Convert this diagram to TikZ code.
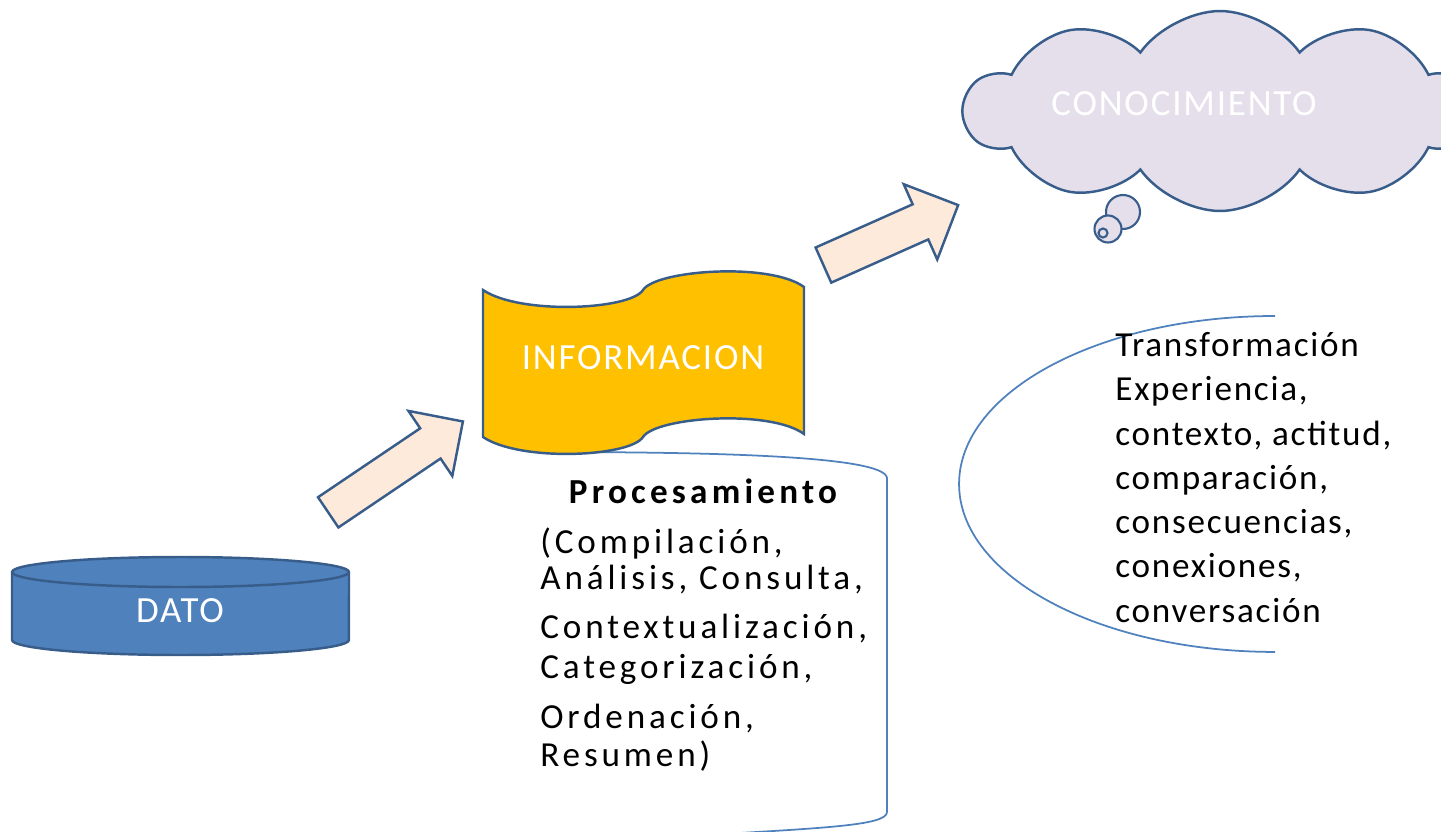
\documentclass[tikz,border=0pt]{standalone}
\usepackage{fontspec}
\setmainfont{Carlito}[LetterSpace=5]
\newfontfamily\listfont{Carlito}[LetterSpace=11]
\usetikzlibrary{shapes,arrows,positioning,shapes.symbols,shapes.arrows}

\definecolor{edgeblue}{HTML}{385D8A}
\definecolor{lineblue}{HTML}{4F81BD}
\definecolor{datofill}{HTML}{4F81BD}
\definecolor{infofill}{HTML}{FFC000}
\definecolor{arrowfill}{HTML}{FDEADA}
\definecolor{cloudfill}{HTML}{E5DFEC}

\begin{document}
\begin{tikzpicture}[
        x=0.02cm, y=-0.02cm,
        title/.style={text=white, font=\fontsize{21}{24}\selectfont},
        edged/.style={draw=edgeblue, line width=1.4pt},
        outline/.style={draw=lineblue, line width=1pt},
        blockarrow/.style={single arrow, edged, fill=arrowfill, inner xsep=0pt, inner ysep=0.34cm, text height=0pt, text depth=0pt, single arrow head extend=0.42cm},
        bubble/.style={circle, edged, fill=cloudfill, line width=1.2pt, inner sep=0pt},
        listtext/.style={align=left, anchor=north west, inner sep=0pt}
    ]
        \useasboundingbox (0,0) rectangle (1441,832);
        \clip (0,0) rectangle (1441,832);

        % Dato
        \filldraw[edged, fill=datofill] (12,572) -- (12,640) arc[start angle=180, end angle=360, x radius=3.37cm, y radius=0.3cm] -- (349,572) arc[start angle=0, end angle=180, x radius=3.37cm, y radius=0.3cm] -- cycle;
        \draw[edged] (12,572) arc[start angle=180, end angle=360, x radius=3.37cm, y radius=0.3cm];
        \node[title] (dato) at (180,611) {DATO};

        % Procesamiento box, behind the banner
        \draw[outline] (540,452) .. controls (700,452) and (885,455) .. (887,478) -- (887,812) .. controls (887,826) and (820,828) .. (690,836);

        % Informacion banner
        \filldraw[edged, fill=infofill] (483,290) .. controls (520,315) and (630,310) .. (643,290) .. controls (656,270) and (770,262) .. (804,287) -- (804,434) .. controls (770,409) and (656,417) .. (643,437) .. controls (630,457) and (520,462) .. (483,437) -- cycle;
        \node[title] (info) at (643,358) {INFORMACION};

        % Conocimiento cloud
        \node[cloud, cloud puffs=10, cloud puff arc=110, aspect=2.5, edged, fill=cloudfill, minimum width=10.2cm, minimum height=4cm,
              label={[title, xshift=-0.72cm, yshift=0.14cm]center:CONOCIMIENTO}] (know) at (1220,111) {};
        \node[bubble, minimum size=0.68cm] (bub1) at (1123,212) {};
        \node[bubble, minimum size=0.54cm] (bub2) at (1108,229) {};
        \node[bubble, minimum size=0.18cm] (bub3) at (1103,233) {};

        % Arrows
        \node[blockarrow, minimum height=3.25cm, rotate=34] (up1) at (388,472) {};
        \node[blockarrow, minimum height=2.95cm, inner ysep=0.36cm, single arrow head extend=0.44cm, rotate=24] (up2) at (882,239) {};

        % Texts
        \node[font=\fontsize{20}{24}\selectfont\bfseries\addfontfeature{LetterSpace=12}, anchor=base] (proctitle) at (703,503) {Procesamiento};
        \node[listtext, font=\listfont\fontsize{20}{20.5}\selectfont] (proclist) at (540,527) {(Compilación,\\ Análisis, Consulta,\\[7.4pt] Contextualización,\\[2.3pt] Categorización,\\[8pt] Ordenación,\\[1.1pt] Resumen)};

        \draw[outline] (1275,316) arc[start angle=90, end angle=270, x radius=6.32cm, y radius=3.36cm];
        \node[listtext, font=\fontsize{20}{25.2}\selectfont] (translist) at (1115,332) {Transformación\\Experiencia,\\contexto, actitud,\\comparación,\\consecuencias,\\conexiones,\\conversación};
    \end{tikzpicture}
\end{document}
